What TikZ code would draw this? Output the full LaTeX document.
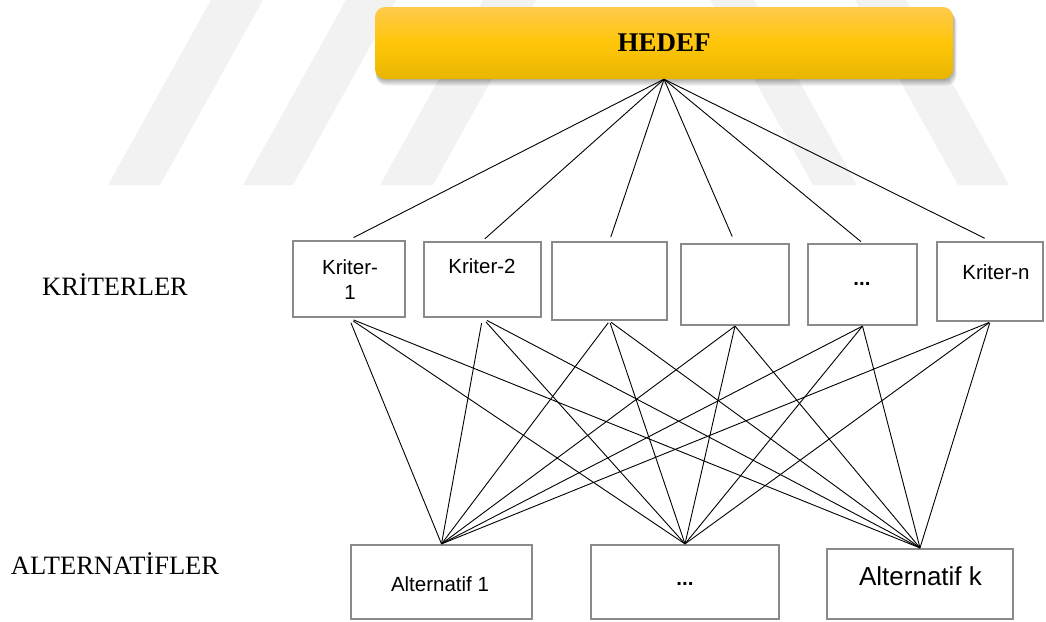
\documentclass[tikz,border=0pt]{standalone}
\usepackage{fontspec}
\setmainfont{Liberation Serif}
\newfontfamily\arialfont{Liberation Sans}
\usetikzlibrary{backgrounds}

\definecolor{boxgray}{HTML}{8A8A8A}
\definecolor{marklight}{HTML}{F2F2F2}
\definecolor{goldtop}{HTML}{FFCA4C}
\definecolor{goldmid}{HTML}{FFC609}
\definecolor{goldbot}{HTML}{E8B600}

\begin{document}
\begin{tikzpicture}[x=1pt,y=-1pt,
  critbox/.style={draw=boxgray, line width=2.2pt, fill=white, rectangle, inner sep=0pt},
  link/.style={black, line width=0.9pt},
  sanstext/.style={font=\arialfont\fontsize{20.5}{25}\selectfont, inner sep=0pt, anchor=base},
  dotstext/.style={font=\arialfont\bfseries\fontsize{20.5}{25}\selectfont, inner sep=0pt, anchor=base},
  sidelabel/.style={font=\fontsize{26.5}{30}\selectfont, inner sep=0pt, anchor=base},
  goalbox/.style={rectangle, rounded corners=10pt, inner sep=0pt,
    top color=goldtop, bottom color=goldbot, middle color=goldmid,
    minimum width=578pt, minimum height=72pt,
    font=\bfseries\fontsize{27}{30}\selectfont}
]
\useasboundingbox (0,0) rectangle (1046,621);

% faint background stripes
\begin{scope}[on background layer]
  \fill[marklight] (211,0) -- (263,0) -- (160,185) -- (108,185) -- cycle;
  \fill[marklight] (346,0) -- (396,0) -- (293,185) -- (243,185) -- cycle;
  \fill[marklight] (483,0) -- (536,0) -- (433,185) -- (380,185) -- cycle;
  \fill[marklight] (710,0) -- (754,0) -- (857,185) -- (813,185) -- cycle;
  \fill[marklight] (855,0) -- (906,0) -- (1009,185) -- (958,185) -- cycle;
\end{scope}

% soft shadow under the goal box
\foreach \i in {1,...,6}
  \fill[black, opacity=0.06, rounded corners=10pt]
    (376,8+0.8*\i) rectangle (953+0.6*\i,79+1.1*\i);

% goal
\node[goalbox] (hedef) at (664,43) {HEDEF};

% criteria
\node[critbox, minimum width=112pt, minimum height=76pt] (k1) at (349,279) {};
\node[critbox, minimum width=117pt, minimum height=75pt] (k2) at (482.5,279.5) {};
\node[critbox, minimum width=115pt, minimum height=78pt] (k3) at (609.5,281) {};
\node[critbox, minimum width=108pt, minimum height=81pt] (k4) at (735,284.5) {};
\node[critbox, minimum width=109pt, minimum height=81pt] (k5) at (862.5,284.5) {};
\node[critbox, minimum width=106pt, minimum height=79pt] (k6) at (990,281.5) {};

\node[sanstext, anchor=center, align=center] (k1t) at (350,279.5) {Kriter-\\1};
\node[sanstext] (k2t) at (482,273.5) {Kriter-2};
\node[dotstext] (k5t) at (862,285) {...};
\node[sanstext] (k6t) at (996,279.5) {Kriter-n};

% alternatives
\node[critbox, minimum width=181pt, minimum height=74pt] (a1) at (441.5,582) {};
\node[critbox, minimum width=188pt, minimum height=74pt] (a2) at (685,582) {};
\node[critbox, minimum width=186pt, minimum height=70pt] (a3) at (920,584) {};

\node[sanstext] (a1t) at (440,591) {Alternatif 1};
\node[dotstext] (a2t) at (685,585) {...};
\node[sanstext, font=\arialfont\fontsize{26}{30}\selectfont] (a3t) at (920.5,585) {Alternatif k};

% level labels
\node[sidelabel] (lvlk) at (115,295) {KRİTERLER};
\node[sidelabel] (lvla) at (115,574) {ALTERNATİFLER};

% goal to criteria
\foreach \k/\s in {1/5,2/3,3/4,4/7,5/2,6/6}
  \draw[link, shorten >=\s pt] (hedef.south) -- (k\k.north);

% criteria to alternatives
\foreach \k/\s in {1/5,2/5,3/2,4/0,5/0,6/1}
  \foreach \a in {1,2,3}
    \draw[link, shorten <=\s pt] (k\k.south) -- (a\a.north);
\end{tikzpicture}
\end{document}
